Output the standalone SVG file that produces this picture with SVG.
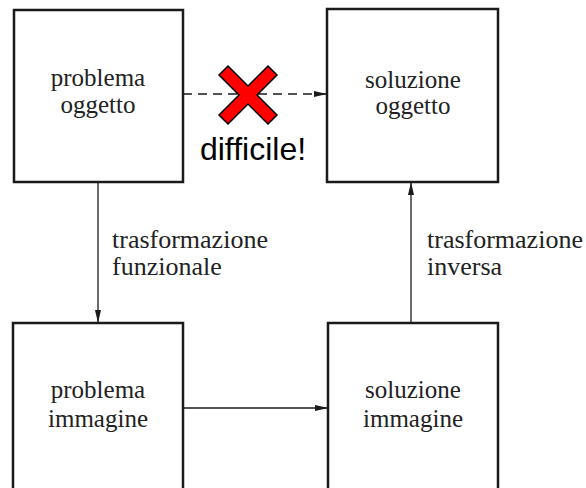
<svg xmlns="http://www.w3.org/2000/svg" width="586" height="488" viewBox="0 0 586 488">
<style>
.box{fill:#fff;stroke:#1a1a1a;stroke-width:2.5}
.t{font-family:"Liberation Serif","Times New Roman",serif;font-size:25px;fill:#222;text-anchor:middle}
.l{font-family:"Liberation Serif","Times New Roman",serif;font-size:26px;fill:#222}
.c{stroke:#1a1a1a;stroke-width:1.3;fill:none}
</style>
<defs>
<marker id="ah" markerWidth="14" markerHeight="8" refX="13" refY="4" orient="auto" markerUnits="userSpaceOnUse">
<path d="M0,1 L13,4 L0,7 Z" fill="#1a1a1a"/>
</marker>
</defs>
<rect width="586" height="488" fill="#fff"/>
<g id="connectors">
<line class="c" x1="183" y1="94" x2="327" y2="94" stroke-dasharray="9,6" marker-end="url(#ah)"/>
<line class="c" x1="98" y1="182" x2="98" y2="323" marker-end="url(#ah)"/>
<line class="c" x1="411" y1="323" x2="411" y2="182" marker-end="url(#ah)"/>
<line class="c" x1="183" y1="408" x2="328" y2="408" marker-end="url(#ah)"/>
<text class="l" x="112" y="248">trasformazione</text>
<text class="l" x="112" y="275">funzionale</text>
<text class="l" x="427" y="248">trasformazione</text>
<text class="l" x="427" y="275">inversa</text>
</g>
<g id="n1">
<rect class="box" x="14" y="10" width="169" height="172"/>
<text class="t" x="98" y="86">problema</text>
<text class="t" x="98" y="113">oggetto</text>
</g>
<g id="n2">
<rect class="box" x="327" y="9" width="171" height="173"/>
<text class="t" x="413" y="88">soluzione</text>
<text class="t" x="413" y="114">oggetto</text>
</g>
<g id="n3">
<rect class="box" x="13" y="323" width="170" height="180"/>
<text class="t" x="98" y="398">problema</text>
<text class="t" x="98" y="427">immagine</text>
</g>
<g id="n4">
<rect class="box" x="328" y="323" width="170" height="180"/>
<text class="t" x="413" y="398">soluzione</text>
<text class="t" x="413" y="427">immagine</text>
</g>
<g id="difficile">
<path d="M219,75 L228,66 L248,86 L268,66 L277,75 L257,95 L277,115 L268,124 L248,104 L228,124 L219,115 L239,95 Z" fill="#f00" stroke="#000" stroke-width="1.5" stroke-linejoin="miter"/>
<text x="253" y="160" font-family="'Liberation Sans',Arial,sans-serif" font-size="32" fill="#000" text-anchor="middle">difficile!</text>
</g>
</svg>
